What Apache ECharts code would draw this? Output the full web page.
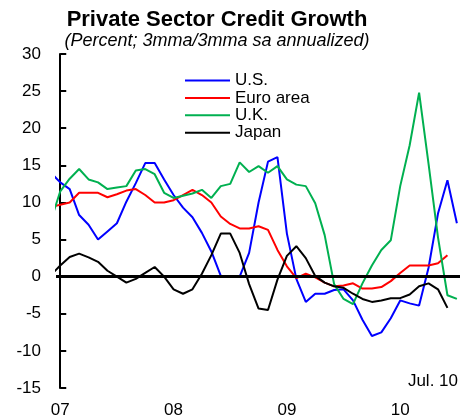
<!DOCTYPE html>
<html>
<head>
<meta charset="utf-8">
<script src="https://cdn.jsdelivr.net/npm/echarts@6/dist/echarts.min.js"></script>
<style>
  html, body { margin: 0; padding: 0; background: #fff; }
  #chart { width: 466px; height: 419px; }
</style>
</head>
<body>
<div id="chart"></div>
<script>
// Months counted from Jan 2007 (0); Dec 2006 (-1) lets the lines run into the y axis.
const monthIndex = [-1, 0, 1, 2, 3, 4, 5, 6, 7, 8, 9, 10, 11,
  12, 13, 14, 15, 16, 17, 18, 19, 20, 21, 22, 23,
  24, 25, 26, 27, 28, 29, 30, 31, 32, 33, 34, 35,
  36, 37, 38, 39, 40, 41, 42];

const yearTicks = [0, 12, 24, 36];
const yearLabels = ['07', '08', '09', '10'];

// Private sector credit growth, percent, 3mma/3mma sa annualized
const usValues = [14.0, 12.7, 11.8, 8.3, 7.0, 5.0, 6.1, 7.2, 10.1, 12.6, 15.3, 15.3, 13.1,
  11.0, 9.3, 8.0, 5.9, 3.4, 0.1, 0.0, 0.0, 3.2, 10.0, 15.5, 16.1,
  5.8, -0.3, -3.4, -2.3, -2.3, -1.8, -1.7, -3.2, -5.8, -8.0, -7.5, -5.6,
  -3.2, -3.6, -3.9, 1.2, 8.5, 13.0, 7.2];

const euroValues = [9.4, 9.7, 10.0, 11.3, 11.3, 11.3, 10.7, 11.1, 11.6, 11.8, 11.0, 10.0, 10.0,
  10.3, 11.0, 11.7, 11.0, 10.0, 8.1, 7.1, 6.5, 6.5, 6.8, 6.3, 3.6,
  1.4, -0.2, 0.4, -0.1, -0.8, -1.3, -1.2, -0.9, -1.6, -1.6, -1.4, -0.6,
  0.5, 1.5, 1.5, 1.5, 1.8, 2.9, null];

const ukValues = [7.5, 11.5, 13.2, 14.5, 13.1, 12.7, 11.8, 12.0, 12.2, 14.3, 14.5, 13.8, 11.3,
  10.6, 10.9, 11.2, 11.7, 10.6, 12.2, 12.5, 15.4, 14.1, 14.9, 14.0, 14.9,
  13.1, 12.4, 12.2, 9.9, 5.6, -1.0, -3.0, -3.7, -0.9, 1.5, 3.6, 4.9,
  12.2, 17.7, 24.8, 15.2, 5.3, -2.5, -3.0];

const japanValues = [0.2, 1.5, 2.65, 3.1, 2.6, 2.0, 0.8, 0.0, -0.8, -0.3, 0.5, 1.3, 0.0,
  -1.7, -2.3, -1.7, 0.4, 2.9, 5.8, 5.8, 3.2, -1.0, -4.3, -4.5, -0.4,
  2.8, 4.1, 2.5, 0.1, -0.8, -1.3, -1.5, -2.3, -3.0, -3.4, -3.2, -2.9,
  -2.9, -2.4, -1.3, -0.9, -1.7, -4.2, null];

const seriesNames = ['U.S.', 'Euro area', 'U.K.', 'Japan'];
const seriesColors = ['#0000FF', '#FF0000', '#00B050', '#000000'];
const seriesValues = [usValues, euroValues, ukValues, japanValues];

const FONT = '"Liberation Sans", Arial, sans-serif';

const pairs = vals => monthIndex.map((m, k) => [m, vals[k]]);

const lineSeries = seriesNames.map((name, k) => ({
  name: name,
  type: 'line',
  data: pairs(seriesValues[k]),
  symbol: 'none',
  clip: true,
  connectNulls: false,
  lineStyle: { color: seriesColors[k], width: 2 },
  itemStyle: { color: seriesColors[k] },
  z: 3
}));

// zero reference line across the plot
lineSeries.push({
  name: 'zero',
  type: 'line',
  data: [],
  silent: true,
  z: 4,
  markLine: {
    silent: true,
    symbol: 'none',
    label: { show: false },
    lineStyle: { color: '#000', width: 3, type: 'solid' },
    data: [{ yAxis: 0 }]
  }
});

const chart = echarts.init(document.getElementById('chart'), null, { renderer: 'canvas' });

chart.setOption({
  backgroundColor: '#fff',
  animation: false,
  title: [
    {
      text: 'Private Sector Credit Growth',
      left: 217,
      top: 9,
      textAlign: 'center',
      padding: 0,
      textStyle: { fontFamily: FONT, fontWeight: 'bold', fontSize: 22, color: '#000' }
    },
    {
      text: '(Percent; 3mma/3mma sa annualized)',
      left: 217,
      top: 32,
      textAlign: 'center',
      padding: 0,
      textStyle: { fontFamily: FONT, fontStyle: 'italic', fontWeight: 'normal', fontSize: 18, color: '#000' }
    }
  ],
  legend: {
    data: seriesNames,
    orient: 'vertical',
    left: 185,
    top: 72,
    padding: 0,
    itemWidth: 45,
    itemHeight: 14,
    itemGap: 0.4,
    icon: 'path://M0,6 L45,6 L45,8 L0,8 Z',
    textStyle: { fontFamily: FONT, fontSize: 17, color: '#000', lineHeight: 14 },
    selectedMode: false
  },
  grid: {
    left: 56,
    right: 6,
    top: 54,
    bottom: 31,
    containLabel: false
  },
  xAxis: {
    type: 'value',
    min: -0.45,
    max: 42.33,
    axisLine: { show: false },
    axisTick: { show: false },
    splitLine: { show: false },
    axisLabel: {
      customValues: yearTicks,
      margin: 14,
      fontFamily: FONT,
      fontSize: 17,
      color: '#000',
      formatter: v => yearLabels[yearTicks.indexOf(v)]
    }
  },
  yAxis: {
    type: 'value',
    min: -15,
    max: 30,
    interval: 5,
    axisLine: { show: true, lineStyle: { color: '#000', width: 2 } },
    axisTick: { show: true, inside: true, length: 6, lineStyle: { color: '#000', width: 2 } },
    splitLine: { show: false },
    axisLabel: { margin: 15, fontFamily: FONT, fontSize: 17, color: '#000' }
  },
  graphic: [
    {
      type: 'text',
      right: 8,
      top: 373,
      style: { text: 'Jul. 10', font: '17px ' + FONT, fill: '#000' }
    }
  ],
  series: lineSeries
});
</script>
</body>
</html>
